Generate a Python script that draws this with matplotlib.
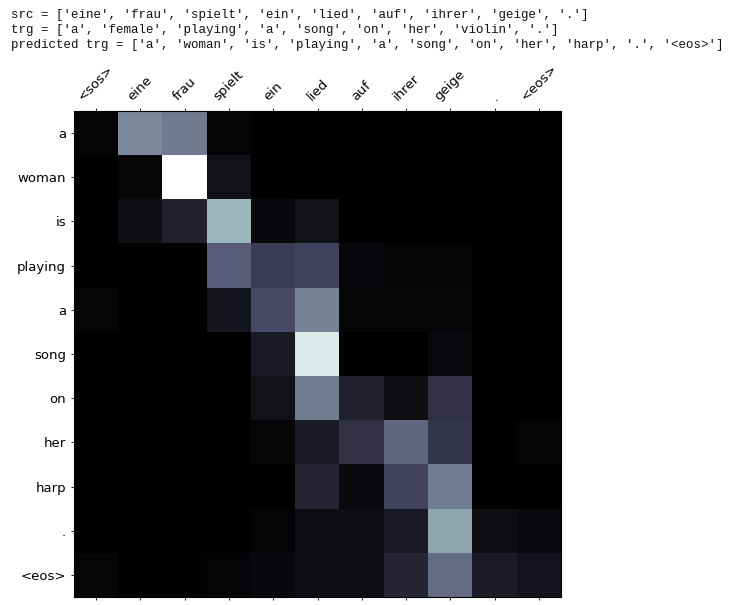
import numpy as np
import matplotlib
matplotlib.use("Agg")
from matplotlib import pyplot as plt

src = ['eine', 'frau', 'spielt', 'ein', 'lied', 'auf', 'ihrer', 'geige', '.']
trg = ['a', 'female', 'playing', 'a', 'song', 'on', 'her', 'violin', '.']
pred = ['a', 'woman', 'is', 'playing', 'a', 'song', 'on', 'her', 'harp', '.', '<eos>']

x_labels = ['<sos>'] + src + ['<eos>']
y_labels = pred

# attention weights, rows = predicted tokens, cols = source tokens
attention = np.array([
    [0.02, 0.55, 0.50, 0.02, 0.00, 0.01, 0.00, 0.00, 0.00, 0.00, 0.00],
    [0.00, 0.03, 1.00, 0.08, 0.00, 0.00, 0.00, 0.00, 0.00, 0.00, 0.00],
    [0.00, 0.06, 0.15, 0.70, 0.04, 0.08, 0.00, 0.00, 0.00, 0.00, 0.00],
    [0.01, 0.01, 0.01, 0.40, 0.27, 0.30, 0.04, 0.02, 0.02, 0.00, 0.00],
    [0.03, 0.01, 0.01, 0.10, 0.33, 0.53, 0.03, 0.03, 0.03, 0.00, 0.00],
    [0.00, 0.00, 0.00, 0.00, 0.12, 0.90, 0.01, 0.01, 0.05, 0.00, 0.00],
    [0.00, 0.00, 0.00, 0.01, 0.08, 0.51, 0.15, 0.06, 0.22, 0.00, 0.00],
    [0.00, 0.00, 0.00, 0.00, 0.03, 0.12, 0.22, 0.43, 0.24, 0.01, 0.02],
    [0.00, 0.00, 0.00, 0.00, 0.01, 0.17, 0.05, 0.30, 0.51, 0.01, 0.01],
    [0.01, 0.01, 0.01, 0.01, 0.02, 0.06, 0.07, 0.11, 0.64, 0.07, 0.05],
    [0.03, 0.01, 0.01, 0.02, 0.04, 0.06, 0.07, 0.17, 0.45, 0.13, 0.09],
])

fig = plt.figure(figsize=(7.41, 6.05), dpi=100)

# printed notebook output above the plot
lines = [
    "src = " + str(src),
    "trg = " + str(trg),
    "predicted trg = " + str(pred),
]
for i, line in enumerate(lines):
    fig.text(11 / 741, 1 - (15.3 + 15 * i) / 605, line,
             family="Liberation Mono", fontsize=9, va="center", ha="left",
             color="#111111")

ax = fig.add_axes([74 / 741, 8 / 605, 487 / 741, 486 / 605])
ax.matshow(attention, cmap="bone", aspect="auto")

ax.set_xticks(range(len(x_labels)))
ax.set_yticks(range(len(y_labels)))
ax.set_xticklabels(x_labels, rotation=45, fontsize=9.5)
ax.set_yticklabels(y_labels, fontsize=9.5)
ax.tick_params(length=2.2, width=0.6, pad=3.5)
for s in ax.spines.values():
    s.set_linewidth(0.8)

fig.savefig("out.png", dpi=100)
